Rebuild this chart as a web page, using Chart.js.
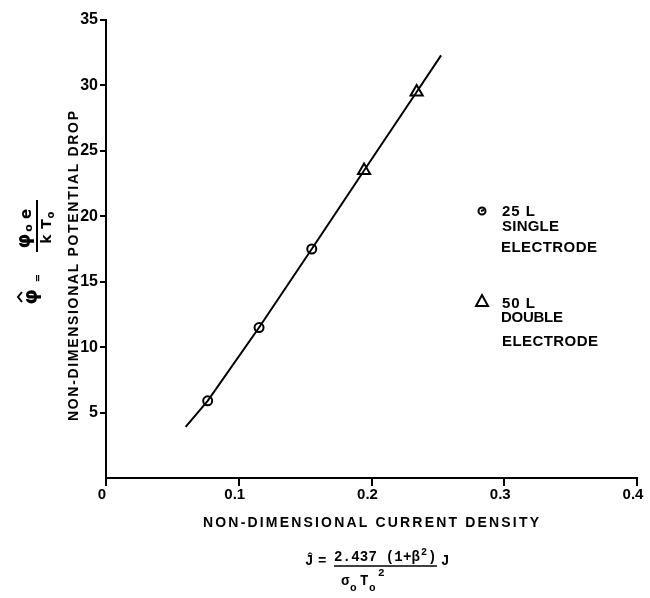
<!DOCTYPE html>
<html>
<head>
<meta charset="utf-8">
<script src="https://cdn.jsdelivr.net/npm/chart.js@4.4.1/dist/chart.umd.min.js"></script>
<style>
  body { margin: 0; background: #fff; }
  #wrap { width: 650px; height: 598px; }
</style>
</head>
<body>
<div id="wrap"><canvas id="myChart" width="650" height="598"></canvas></div>
<script>
// values
const lineJ = [0.060, 0.0766, 0.1153, 0.155, 0.1944, 0.234, 0.2524];
const linePhi = [3.9, 5.9, 11.5, 17.5, 23.5, 29.5, 32.3];
const singleJ = [0.0766, 0.1153, 0.155];
const singlePhi = [5.9, 11.5, 17.5];
const doubleJ = [0.1944, 0.234];
const doublePhi = [23.5, 29.5];
const xTicks = [0, 0.1, 0.2, 0.3, 0.4];
const xTickLabels = ['0', '0.1', '0.2', '0.3', '0.4'];
const yTicks = [5, 10, 15, 20, 25, 30, 35];

function pairs(xs, ys) {
    return xs.map((x, i) => ({ x: x, y: ys[i] }));
}

// text stretched to a given width
function spaced(ctx, text, x, y, width) {
    ctx.letterSpacing = '0px';
    let w = ctx.measureText(text).width;
    let sp = (width - w) / (text.length - 1);
    ctx.letterSpacing = sp + 'px';
    ctx.fillText(text, x, y);
    ctx.letterSpacing = '0px';
}

const textPlugin = {
    id: 'texts',
    afterDraw(chart) {
        const ctx = chart.ctx;
        ctx.save();
        ctx.fillStyle = '#000';
        ctx.strokeStyle = '#000';
        ctx.textBaseline = 'middle';
        ctx.textAlign = 'left';

        // x axis title
        ctx.font = 'bold 14px "Liberation Sans"';
        spaced(ctx, 'NON-DIMENSIONAL CURRENT DENSITY', 203, 523, 336);

        // formula under the x title
        ctx.font = 'bold 14px "Liberation Mono"';
        ctx.fillText('\u0134', 305, 561);
        ctx.fillText('=', 318, 561);
        spaced(ctx, '2.437 (1+\u03B2', 334, 557, 86);
        ctx.font = 'bold 10px "Liberation Mono"';
        ctx.fillText('2', 421, 552);
        ctx.font = 'bold 14px "Liberation Mono"';
        ctx.fillText(')', 428, 557);
        ctx.lineWidth = 1.5;
        ctx.beginPath(); ctx.moveTo(334, 566); ctx.lineTo(437, 566); ctx.stroke();
        ctx.fillText('\u03C3', 341, 581);
        ctx.font = 'bold 11px "Liberation Mono"';
        ctx.fillText('o', 350, 588);
        ctx.font = 'bold 14px "Liberation Mono"';
        ctx.fillText('T', 360, 581);
        ctx.font = 'bold 11px "Liberation Mono"';
        ctx.fillText('o', 369, 588);
        ctx.fillText('2', 378, 573);
        ctx.font = 'bold 14px "Liberation Mono"';
        ctx.fillText('J', 441, 561);

        // y axis title, rotated
        ctx.save();
        ctx.translate(74, 266);
        ctx.rotate(-Math.PI / 2);
        ctx.textAlign = 'left';
        ctx.font = 'bold 14px "Liberation Sans"';
        spaced(ctx, 'NON-DIMENSIONAL POTENTIAL DROP', -155, 0, 310);
        ctx.restore();

        // phi hat = phi_o e / k T_o, rotated
        ctx.save();
        ctx.translate(37, 266);
        ctx.rotate(-Math.PI / 2);
        ctx.textAlign = 'center';
        ctx.font = 'bold 20px "DejaVu Sans"';
        ctx.fillText('\u03C6', -31, -5);
        ctx.lineWidth = 2;
        ctx.beginPath(); ctx.moveTo(-36, -15); ctx.lineTo(-31, -19); ctx.lineTo(-26, -15); ctx.stroke();
        ctx.font = 'bold 10px "DejaVu Sans"';
        ctx.fillText('=', -12, 1);
        ctx.lineWidth = 2;
        ctx.beginPath(); ctx.moveTo(14, 0); ctx.lineTo(66, 0); ctx.stroke();
        ctx.font = 'bold 19px "DejaVu Sans"';
        ctx.fillText('\u03C6', 25, -12);
        ctx.font = 'bold 11px "DejaVu Sans"';
        ctx.fillText('o', 38, -8);
        ctx.font = 'bold 15px "DejaVu Sans"';
        ctx.fillText('e', 52, -10);
        ctx.font = 'bold 14px "DejaVu Sans"';
        ctx.fillText('k', 27, 10);
        ctx.fillText('T', 42, 10);
        ctx.font = 'bold 10px "DejaVu Sans"';
        ctx.fillText('o', 51, 14);
        ctx.restore();

        // legend
        ctx.lineWidth = 2;
        ctx.fillStyle = '#fff';
        ctx.beginPath(); ctx.arc(482, 211, 3.5, 0, Math.PI * 2); ctx.fill(); ctx.stroke();
        ctx.beginPath(); ctx.moveTo(481, 211); ctx.lineTo(484, 210); ctx.stroke();
        ctx.beginPath();
        ctx.moveTo(482, 295); ctx.lineTo(488, 306); ctx.lineTo(476, 306); ctx.closePath(); ctx.stroke();
        ctx.fillStyle = '#000';
        ctx.textAlign = 'left';
        ctx.font = 'bold 15px "Liberation Sans"';
        spaced(ctx, '25 L', 502, 212, 33);
        spaced(ctx, 'SINGLE', 502, 227, 57);
        spaced(ctx, 'ELECTRODE', 501, 248, 96);
        spaced(ctx, '50 L', 502, 304, 33);
        spaced(ctx, 'DOUBLE', 501, 318, 62);
        spaced(ctx, 'ELECTRODE', 502, 342, 96);
        ctx.restore();
    }
};

const ctx = document.getElementById('myChart').getContext('2d');
let myChart = new Chart(ctx, {
    type: 'scatter',
    data: {
        datasets: [{
            label: 'fit',
            data: pairs(lineJ, linePhi),
            showLine: true,
            borderColor: '#000',
            borderWidth: 2,
            pointRadius: 0,
            tension: 0
        }, {
            label: '25 L SINGLE ELECTRODE',
            data: pairs(singleJ, singlePhi),
            pointStyle: 'circle',
            pointRadius: 4.5,
            borderColor: '#000',
            backgroundColor: '#fff',
            borderWidth: 2
        }, {
            label: '50 L DOUBLE ELECTRODE',
            data: pairs(doubleJ, doublePhi),
            pointStyle: 'triangle',
            pointRadius: 7,
            borderColor: '#000',
            backgroundColor: 'rgba(0,0,0,0)',
            borderWidth: 2
        }]
    },
    options: {
        responsive: false,
        animation: false,
        layout: { padding: { top: 20, right: 13, left: 0, bottom: 0 } },
        plugins: { legend: { display: false }, tooltip: { enabled: false } },
        scales: {
            x: {
                type: 'linear',
                min: 0,
                max: 0.4,
                afterBuildTicks: s => { s.ticks = xTicks.map(v => ({ value: v })); },
                afterFit: s => { s.height = 120; },
                ticks: {
                    color: '#000',
                    font: { family: 'Liberation Sans', size: 15, weight: 'bold' },
                    padding: 0,
                    labelOffset: -4,
                    maxRotation: 0,
                    callback: (v, i) => xTickLabels[i]
                },
                grid: { drawOnChartArea: false, color: '#000', lineWidth: 2, tickLength: 8 },
                border: { color: '#000', width: 2 }
            },
            y: {
                type: 'linear',
                min: 0,
                max: 35,
                afterBuildTicks: s => { s.ticks = yTicks.map(v => ({ value: v })); },
                afterFit: s => { s.width = 106; },
                ticks: {
                    color: '#000',
                    font: { family: 'Liberation Sans', size: 16, weight: 'bold' },
                    padding: 2
                },
                grid: { drawOnChartArea: false, color: '#000', lineWidth: 2, tickLength: 6 },
                border: { color: '#000', width: 2 }
            }
        }
    },
    plugins: [textPlugin]
});
</script>
</body>
</html>
